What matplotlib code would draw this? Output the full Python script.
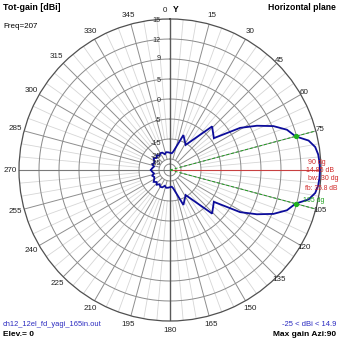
import numpy as np
import matplotlib
matplotlib.use("Agg")
import matplotlib.pyplot as plt

plt.rcParams['font.family'] = ['Liberation Sans', 'DejaVu Sans']

# ---------------- data ----------------
azimuth_deg = [270, 276, 282, 288, 294, 300, 306, 312, 318, 324, 330, 336, 342, 348, 354,
               0, 6, 10, 21, 32, 44, 54, 57, 59, 63, 67, 71, 75, 78, 81, 84, 87,
               90,
               93, 96, 99, 102, 105, 109, 113, 117, 121, 123, 126, 136, 148, 159, 170, 174,
               180, 186, 192, 198, 204, 210, 216, 222, 228, 234, 240, 246, 252, 258, 264, 270]
gain_dbi = [-20.95, -21.6, -22.3, -21.2, -21.9, -21.4, -20.4, -21.5, -20.6, -21.7, -20.8, -21.0, -22.2, -21.4, -21.6,
            -21.9, -22.1, -21.2, -11.8, -15.7, -2.6, -4.2, -0.8, 2.7, 6.3, 9.2, 10.9, 11.85, 13.6, 14.4, 14.7, 14.8,
            14.85,
            14.8, 14.7, 14.4, 13.6, 11.85, 10.9, 9.2, 6.3, 2.7, -0.8, -4.2, -2.6, -15.7, -11.8, -21.2, -22.1,
            -21.9, -21.6, -21.4, -22.2, -21.0, -20.8, -21.7, -20.6, -21.5, -20.4, -21.4, -21.9, -21.2, -22.3, -21.6, -20.95]

ring_values = [12, 9, 5, 0, -5, -15, -25, -35]
ring_labels = ["15", "12", "9", "5", "0", "-5", "-15", "-25", "-35"]
angle_ticks = list(range(0, 360, 15))
max_gain = 14.85
max_azi = 90
bw_edges = [75, 105]
bw_level = 11.85
beamwidth = 30
fb_ratio = 35.8
freq = 207
min_gain_text = -25
max_gain_text = 14.9
file_name = "ch12_12el_fd_yagi_165in.out"
elevation = 0

# radial scale of the plot (dB -> fraction of radius)
scale_db = [-45, -35, -25, -15, -5, 0, 5, 9, 12, 15]
scale_px = np.array([0, 6, 11, 31, 51, 71, 91, 111, 131, 151], dtype=float)
scale_frac = scale_px / 151.0


def fwd(d):
    return np.interp(d, scale_db, scale_frac)


def inv(f):
    return np.interp(f, scale_frac, scale_db)


W = 339
fig = plt.figure(figsize=(3.39, 3.39), dpi=100)
fig.patch.set_facecolor('white')
ax = fig.add_axes([19 / W, 18 / W, 302 / W, 302 / W], projection='polar')
ax.set_theta_zero_location('N')
ax.set_theta_direction(-1)
ax.set_rscale('function', functions=(fwd, inv))
ax.set_rlim(-45, 15)
ax.grid(False)
ax.set_xticks([])
ax.set_yticks([])
ax.spines['polar'].set_color('#505050')
ax.spines['polar'].set_linewidth(0.9)

th = np.linspace(0, 2 * np.pi, 721)
for v in ring_values:
    ax.plot(th, np.full_like(th, v), color='#8a8a8a', lw=0.7, zorder=1)

# spokes
for a in range(0, 360, 5):
    t = np.deg2rad(a)
    if a % 90 == 0:
        continue
    if a % 15 == 0:
        ax.plot([t, t], [-25, 15], color='#8e8e8e', lw=0.7, zorder=1)
    else:
        ax.plot([t, t], [-15, 15], color='#d6d6d6', lw=0.6, zorder=0.9)

# main axes
ax.plot([0, 0], [-45, 15], color='#5a5a5a', lw=1.0, zorder=1.2)
ax.plot([np.pi, np.pi], [-45, 15], color='#5a5a5a', lw=1.0, zorder=1.2)
ax.plot([np.deg2rad(270)] * 2, [-45, 15], color='#7a7a7a', lw=0.8, zorder=1.2)
ax.plot([np.deg2rad(max_azi)] * 2, [-45, 15], color='#c84040', lw=0.8, zorder=1.3)

# beamwidth lines
for e in bw_edges:
    ax.plot([np.deg2rad(e)] * 2, [-45, 15], color='#20a020', lw=0.7,
            dashes=(3, 2), zorder=1.3)
ax.plot(np.deg2rad(bw_edges), [bw_level, bw_level], linestyle='none', marker='o',
        markersize=2.8, color='#20b020', zorder=4)

# pattern
ax.plot(np.deg2rad(azimuth_deg), gain_dbi, color='#0c0c9a', lw=1.3, zorder=3,
        solid_joinstyle='miter')

# angle labels
for a in angle_ticks:
    if a == max_azi:
        continue
    rl = 160.0
    if 40 <= a <= 140:
        rl = 155.0
    s = np.sin(np.deg2rad(a))
    c = np.cos(np.deg2rad(a))
    x = 0.5 + 0.5 * rl / 151.0 * s
    y = 0.5 + 0.5 * rl / 151.0 * c
    if a == 0:
        x -= 5 / 302
    ax.text(x, y, str(a), transform=ax.transAxes, ha='center', va='center',
            fontsize=5.8, color='#202020', clip_on=False)

# ring labels
label_r_px = [150, 130, 111, 90, 69, 50, 27, 14, 6]
for lab, rp in zip(ring_labels, label_r_px):
    fig.text(161 / W, 1 - (170 - rp) / W, lab, ha='right', va='center',
             fontsize=5.2, color='#303030')


def ft(xp, yp, s, **kw):
    fig.text(xp / W, 1 - yp / W, s, va='center', **kw)


ft(3, 8, "Tot-gain [dBi]", ha='left', fontsize=6.4, fontweight='bold', color='black')
ft(3, 27, f"Freq={freq}", ha='left', fontsize=5.8, color='black')
ft(336, 7, "Horizontal plane", ha='right', fontsize=6.2, fontweight='bold', color='black')
ft(173, 10, "Y", ha='left', fontsize=6.2, fontweight='bold', color='black')
ft(3, 324, file_name, ha='left', fontsize=5.4, color='#2a2ac0')
ft(3, 334, f"Elev.= {elevation}", ha='left', fontsize=6.0, fontweight='bold', color='black')
ft(336, 324, f"{min_gain_text} < dBi < {max_gain_text}", ha='right', fontsize=5.5, color='#2a2ac0')
ft(336, 334, f"Max gain Azi:{max_azi}", ha='right', fontsize=6.0, fontweight='bold', color='black')

red = '#d02828'
ft(308, 162, f"{max_azi} dg", ha='left', fontsize=5.0, color=red)
ft(306, 171, f"{max_gain} dB", ha='left', fontsize=5.0, color=red)
ft(308, 179, f"bw: {beamwidth} dg", ha='left', fontsize=5.0, color=red)
ft(305, 188, f"fb: {fb_ratio} dB", ha='left', fontsize=4.9, color=red)
ft(303, 200, f"{bw_edges[1]} dg", ha='left', fontsize=5.0, color='#20a020')

fig.savefig("out.png", dpi=100, facecolor='white')
